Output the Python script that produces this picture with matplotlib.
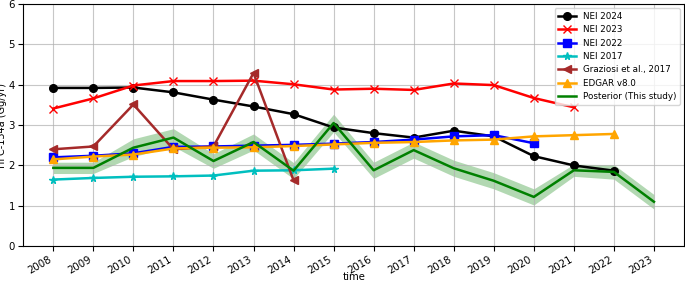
import matplotlib
matplotlib.use("Agg")
import matplotlib.pyplot as plt

# years
years = list(range(2008, 2024))

nei2024 = [3.92, 3.92, 3.93, 3.81, 3.63, 3.46, 3.27, 2.94, 2.80, 2.69, 2.86, 2.72, 2.23, 2.00, 1.87]
nei2023 = [3.41, 3.66, 3.98, 4.09, 4.09, 4.10, 4.01, 3.88, 3.90, 3.87, 4.03, 3.99, 3.67, 3.44]
nei2022 = [2.20, 2.24, 2.30, 2.46, 2.47, 2.49, 2.51, 2.54, 2.58, 2.64, 2.72, 2.75, 2.55]
nei2017 = [1.65, 1.69, 1.72, 1.73, 1.75, 1.87, 1.88, 1.92]
graziosi = [2.40, 2.47, 3.51, 2.40, 2.47, 4.29, 1.63]
edgar = [2.15, 2.22, 2.27, 2.42, 2.44, 2.45, 2.48, 2.52, 2.56, 2.58, 2.62, 2.64, 2.72, 2.75, 2.78]
posterior = [1.94, 1.94, 2.44, 2.69, 2.11, 2.58, 1.87, 3.05, 1.88, 2.38, 1.93, 1.62, 1.22, 1.88, 1.84, 1.10]
post_lo = [1.80, 1.80, 2.22, 2.47, 1.93, 2.38, 1.67, 2.83, 1.68, 2.18, 1.73, 1.42, 1.02, 1.73, 1.66, 0.92]
post_hi = [2.08, 2.08, 2.66, 2.91, 2.29, 2.78, 2.07, 3.27, 2.08, 2.58, 2.13, 1.82, 1.42, 2.03, 2.02, 1.28]

fig, ax = plt.subplots(figsize=(6.85, 2.82), dpi=100)
fig.subplots_adjust(left=0.034, right=0.9985, top=0.986, bottom=0.127)

ax.fill_between(years, post_lo, post_hi, color='green', alpha=0.3, linewidth=0)

ax.plot(years[:len(nei2024)], nei2024, color='black', marker='o', lw=1.8, ms=5.5, label='NEI 2024')
ax.plot(years[:len(nei2023)], nei2023, color='red', marker='x', lw=1.8, ms=5.5, label='NEI 2023')
ax.plot(years[:len(nei2022)], nei2022, color='blue', marker='s', lw=1.8, ms=5.5, label='NEI 2022')
ax.plot(years[:len(nei2017)], nei2017, color='c', marker='*', lw=1.8, ms=5.5, label='NEI 2017')
ax.plot(years[:len(graziosi)], graziosi, color='brown', marker='<', lw=1.8, ms=5.5, label='Graziosi et al., 2017')
ax.plot(years[:len(edgar)], edgar, color='orange', marker='^', lw=1.8, ms=5.5, label='EDGAR v8.0')
ax.plot(years, posterior, color='green', lw=1.8, label='Posterior (This study)')

ax.set_ylim(0, 6)
ax.set_xticks(years)
ax.set_xticklabels([str(y) for y in years], rotation=30, ha='right', fontsize=7.3)
ax.tick_params(axis='both', labelsize=7.3, pad=2.5)
ax.set_ylabel('HFC-134a (Gg/yr)', fontsize=7)
ax.yaxis.set_label_coords(-0.0245, 0.5)
ax.set_xlabel('time', fontsize=7.3)
ax.xaxis.set_label_coords(0.5, -0.105)
ax.grid(True, color='#b0b0b0', alpha=0.7, lw=0.8)
ax.legend(loc='upper right', fontsize=6.3)

plt.savefig('out.png', dpi=100)
